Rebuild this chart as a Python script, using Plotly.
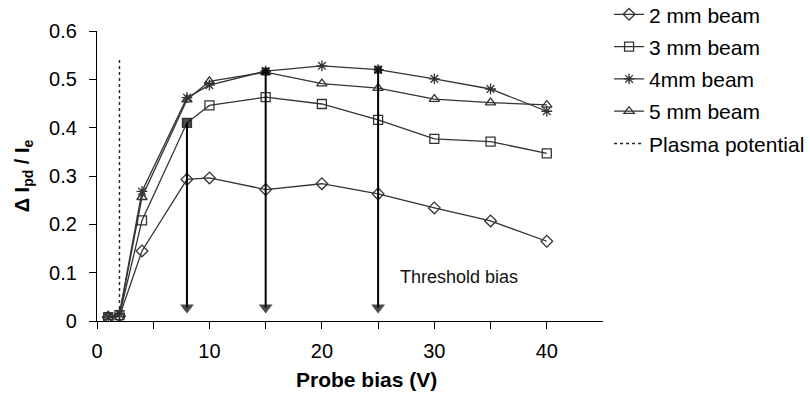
import plotly.graph_objects as go

bias = [1, 2, 4, 8, 10, 15, 20, 25, 30, 35, 40]
beam_2mm = [0.008, 0.010, 0.145, 0.293, 0.296, 0.272, 0.284, 0.263, 0.234, 0.207, 0.165]
beam_3mm = [0.008, 0.012, 0.208, 0.410, 0.446, 0.463, 0.449, 0.416, 0.377, 0.371, 0.347]
beam_4mm = [0.008, 0.015, 0.268, 0.462, 0.488, 0.517, 0.528, 0.520, 0.501, 0.480, 0.434]
beam_5mm = [0.008, 0.013, 0.256, 0.458, 0.496, 0.515, 0.491, 0.482, 0.459, 0.452, 0.447]
series_names = ["2 mm beam", "3 mm beam", "4mm beam", "5 mm beam"]
series_symbols = ["diamond-open", "square-open", "asterisk-open", "triangle-up-open"]

plasma_x = [2, 2]
plasma_y = [0, 0.545]

threshold_x = [8, 15, 25]
threshold_y = [0.410, 0.516, 0.520]
arrow_end_y = 0.028

x_ticks = [0, 10, 20, 30, 40]
x_minor_ticks = [5, 15, 25, 35]
y_ticks = [0, 0.1, 0.2, 0.3, 0.4, 0.5, 0.6]
y_labels = ["0", "0.1", "0.2", "0.3", "0.4", "0.5", "0.6"]

FONT = "Liberation Sans, Arial, sans-serif"
LC = "#333333"

fig = go.Figure()
for i, (name, vals, sym) in enumerate(zip(series_names, [beam_2mm, beam_3mm, beam_4mm, beam_5mm], series_symbols)):
    fig.add_trace(go.Scatter(
        x=bias, y=vals, name=name, mode="lines+markers", legendgroup=f"g{i}",
        line=dict(color=LC, width=1.3),
        marker=dict(symbol=sym, size=9, color=LC, line=dict(color=LC, width=1.3)),
    ))

fig.add_trace(go.Scatter(
    x=plasma_x, y=plasma_y, name="Plasma potential", mode="lines", legendgroup="g9",
    line=dict(color="#222222", width=1.4, dash="dot"),
))

# threshold arrows: filled square at the top, arrowhead at the bottom
for tx, ty in zip(threshold_x, threshold_y):
    fig.add_trace(go.Scatter(
        x=[tx, tx], y=[ty, arrow_end_y], mode="lines+markers", showlegend=False,
        line=dict(color="black", width=2),
        marker=dict(symbol=["square", "triangle-down"], size=[8, 12], color="black",
                    line=dict(width=0)),
    ))

fig.add_annotation(x=32.2, y=0.091, xref="x", yref="y", text="Threshold bias",
                   showarrow=False, font=dict(family=FONT, size=18, color="#111111"))
fig.add_annotation(x=24, y=-0.203, xref="x", yref="paper", text="<b>Probe bias (V)</b>",
                   showarrow=False, yanchor="middle",
                   font=dict(family=FONT, size=21, color="black"))

fig.update_layout(
    width=810, height=394,
    margin=dict(l=97, r=207, t=31, b=73, autoexpand=False),
    paper_bgcolor="white", plot_bgcolor="white",
    font=dict(family=FONT, size=20, color="black"),
    showlegend=True,
    legend=dict(x=1.012, y=1.127, xanchor="left", yanchor="top",
                font=dict(family=FONT, size=21, color="black"),
                traceorder="grouped", tracegroupgap=2,
                bgcolor="rgba(0,0,0,0)"),
    xaxis=dict(range=[0, 45], tickvals=x_ticks,
               showline=True, linecolor="black", linewidth=1.3,
               ticks="outside", ticklen=7, tickwidth=1.3, tickcolor="black",
               minor=dict(tickvals=x_minor_ticks, ticks="outside", ticklen=7,
                          tickwidth=1.3, tickcolor="black", showgrid=False),
               showgrid=False, zeroline=False, tickfont=dict(size=20),
               ticklabelstandoff=5),
    yaxis=dict(range=[0, 0.6], tickvals=y_ticks, ticktext=y_labels,
               showline=True, linecolor="black", linewidth=1.3,
               ticks="outside", ticklen=7, tickwidth=1.3, tickcolor="black",
               showgrid=False, zeroline=False, tickfont=dict(size=20),
               ticklabelstandoff=8,
               title=dict(text="<b>Δ I<sub>pd</sub> / I<sub>e</sub></b>",
                          font=dict(size=20), standoff=14)),
)

fig.write_html("out.html")
